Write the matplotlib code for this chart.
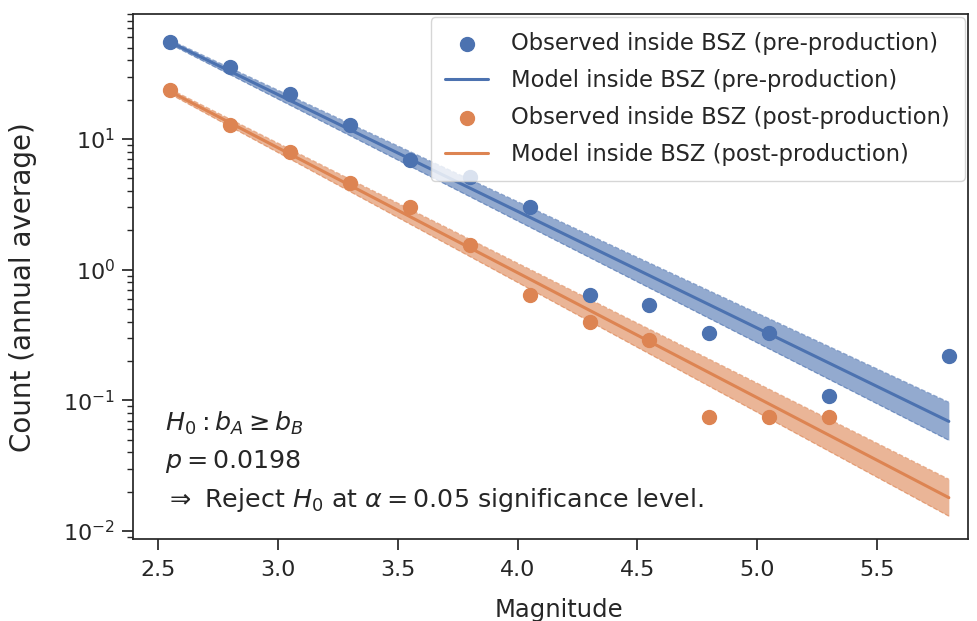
import matplotlib
matplotlib.use("Agg")
import matplotlib.pyplot as plt
import numpy as np
import seaborn as sns

sns.set_theme(style="ticks")
plt.rcParams['font.family'] = ['DejaVu Sans']

# Observed annual-average counts by magnitude
mag_pre = [2.55, 2.80, 3.05, 3.30, 3.55, 3.80, 4.05, 4.30, 4.55, 4.80, 5.05, 5.30, 5.80]
obs_pre = [55.0, 35.5, 22.0, 12.8, 6.9, 5.1, 3.0, 0.64, 0.54, 0.325, 0.325, 0.107, 0.22]

mag_post = [2.55, 2.80, 3.05, 3.30, 3.55, 3.80, 4.05, 4.30, 4.55, 4.80, 5.05, 5.30]
obs_post = [23.5, 12.8, 8.0, 4.6, 3.0, 1.55, 0.64, 0.40, 0.29, 0.074, 0.074, 0.074]

# Model lines (endpoints, straight in log space) and uncertainty bands
model_mag = [2.55, 5.80]
model_pre = [55.0, 0.069]
model_pre_lo = [53.0, 0.0495]
model_pre_hi = [57.0, 0.0966]
model_post = [23.0, 0.0180]
model_post_lo = [22.0, 0.0130]
model_post_hi = [24.0, 0.0249]

blue = "#4C72B0"
orange = "#DD8452"

fig = plt.figure(figsize=(9.77, 6.21), dpi=100)
ax = fig.add_axes([133/977, 1-539/621, (968-133)/977, (539-14)/621])

ax.fill_between(model_mag, model_pre_lo, model_pre_hi, color=blue, alpha=0.6, lw=0)
ax.plot(model_mag, model_pre_lo, color=blue, lw=0.9, ls="--", alpha=0.6)
ax.plot(model_mag, model_pre_hi, color=blue, lw=0.9, ls="--", alpha=0.6)
ax.fill_between(model_mag, model_post_lo, model_post_hi, color=orange, alpha=0.6, lw=0)
ax.plot(model_mag, model_post_lo, color=orange, lw=0.9, ls="--", alpha=0.6)
ax.plot(model_mag, model_post_hi, color=orange, lw=0.9, ls="--", alpha=0.6)

ax.scatter(mag_pre, obs_pre, s=100, color=blue, zorder=3, label="Observed inside BSZ (pre-production)")
ax.plot(model_mag, model_pre, color=blue, lw=2.2, label="Model inside BSZ (pre-production)")
ax.scatter(mag_post, obs_post, s=100, color=orange, zorder=3, label="Observed inside BSZ (post-production)")
ax.plot(model_mag, model_post, color=orange, lw=2.2, label="Model inside BSZ (post-production)")

ax.set_yscale("log")
ax.set_xlim(2.394, 5.88)
ax.set_ylim(10**-2.061, 10**1.956)
ax.set_xticks([2.5, 3.0, 3.5, 4.0, 4.5, 5.0, 5.5])
ax.tick_params(which="major", labelsize=16, length=8, width=1.25, pad=5)
ax.tick_params(axis="x", which="major", pad=7)
ax.tick_params(which="minor", length=4.5, width=1.0)
ax.set_xlabel("Magnitude", fontsize=17.5)
ax.set_ylabel("Count (annual average)", fontsize=20)
ax.yaxis.set_label_coords(-0.115, 0.48)
ax.xaxis.set_label_coords(0.51, -0.113)

ax.legend(loc="upper right", fontsize=16.3, frameon=True, borderaxespad=0.15,
          labelspacing=0.62, handlelength=1.9, handletextpad=1.0, borderpad=0.65)

ax.text(0.038, 0.047,
        "$H_0: b_A \\geq b_B$\n$p = 0.0198$\n$\\Rightarrow$ Reject $H_0$ at $\\alpha = 0.05$ significance level.",
        transform=ax.transAxes, fontsize=18.3, va="bottom", ha="left", linespacing=1.55)

fig.savefig("out.png", dpi=100)
